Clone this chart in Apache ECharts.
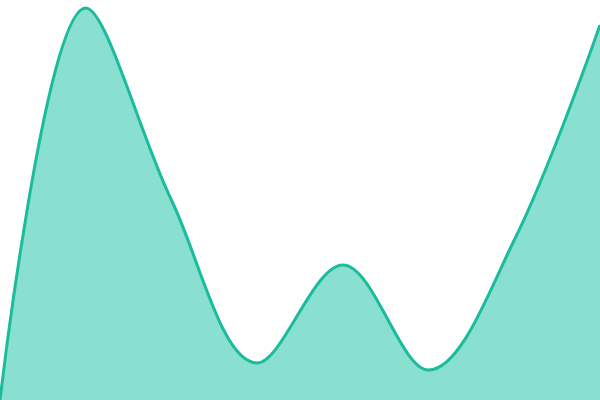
<!DOCTYPE html>
<html>
<head>
<meta charset="utf-8">
<script src="https://cdn.jsdelivr.net/npm/echarts@6/dist/echarts.min.js"></script>
<style>html,body{margin:0;padding:0;background:#fff}#c{width:600px;height:400px}</style>
</head>
<body>
<div id="c"></div>
<script>
const categories = ['1','2','3','4','5','6','7','8'];
const values = [0, 98, 50, 9.25, 33.75, 7.5, 40, 93.75];
const chart = echarts.init(document.getElementById('c'));
chart.setOption({
  animation: false,
  grid: {left: 0, right: 0, top: 0, bottom: 0},
  xAxis: {type: 'category', data: categories, boundaryGap: false, show: false},
  yAxis: {type: 'value', min: 0, max: 100, show: false},
  series: [{
    type: 'line',
    data: values,
    smooth: 0.35,
    symbol: 'none',
    lineStyle: {color: '#1abc9c', width: 3},
    areaStyle: {color: '#8ae0d0', opacity: 1}
  }]
});
</script>
</body>
</html>
